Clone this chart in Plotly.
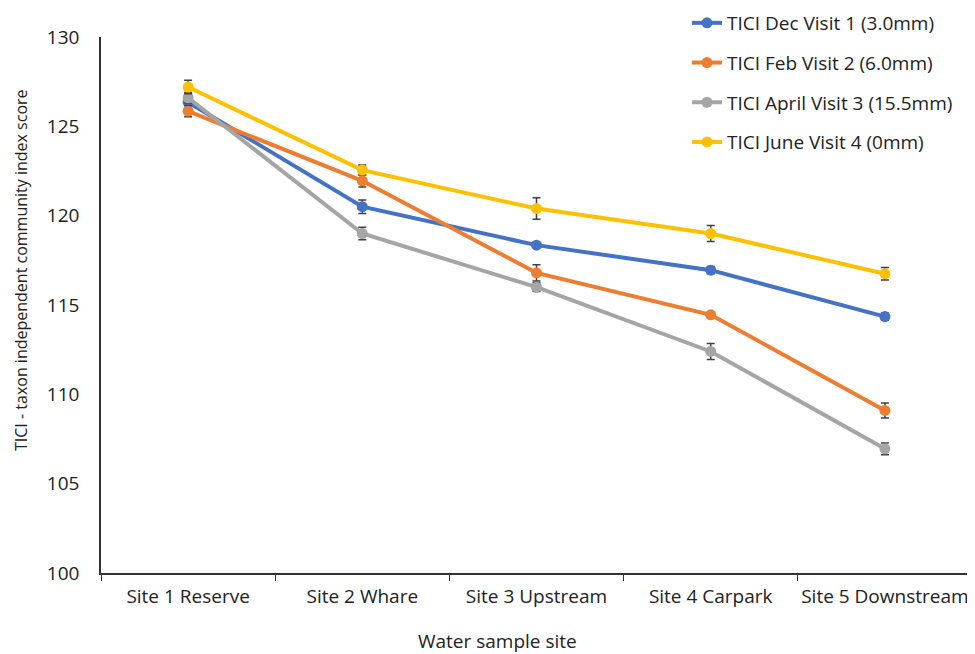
import plotly.graph_objects as go

sites = ["Site 1 Reserve", "Site 2 Whare", "Site 3 Upstream", "Site 4 Carpark", "Site 5 Downstream"]
series_names = ["TICI Dec Visit 1 (3.0mm)", "TICI Feb Visit 2 (6.0mm)",
                "TICI April Visit 3 (15.5mm)", "TICI June Visit 4 (0mm)"]
dec_vals = [126.35, 120.5, 118.35, 116.95, 114.35]
dec_err = [0.3, 0.38, 0.15, 0.2, 0.2]
feb_vals = [125.85, 121.95, 116.8, 114.45, 109.1]
feb_err = [0.32, 0.35, 0.45, 0.15, 0.42]
apr_vals = [126.6, 119.0, 116.0, 112.4, 106.95]
apr_err = [0.3, 0.35, 0.25, 0.45, 0.33]
jun_vals = [127.2, 122.55, 120.4, 119.0, 116.75]
jun_err = [0.38, 0.28, 0.6, 0.45, 0.35]
colors = ["#4472C4", "#ED7D31", "#A5A5A5", "#FFC000"]
y_ticks = [100, 105, 110, 115, 120, 125, 130]

FONT = "Open Sans"
FS = 19
# page has an 8px body margin; plot area in page coords: x 101..972, y 37..573
OFF = 8
PL, PR, PT, PB = 101, 972, 37, 573
W, H = 975 - OFF, 654 - OFF
PW, PH = PR - PL, PB - PT

fig = go.Figure()
for i, (name, vals, err) in enumerate(zip(series_names,
                                          [dec_vals, feb_vals, apr_vals, jun_vals],
                                          [dec_err, feb_err, apr_err, jun_err])):
    fig.add_trace(go.Scatter(
        x=sites, y=vals, name=name, mode="lines+markers",
        legendgroup=f"g{i}",
        line=dict(color=colors[i], width=4),
        marker=dict(color=colors[i], size=11),
        error_y=dict(type="data", array=err, visible=True, color="#404040",
                     thickness=1.5, width=4),
    ))

fig.update_layout(
    width=W, height=H,
    margin=dict(l=PL - OFF, r=W - (PR - OFF), t=PT - OFF, b=H - (PB - OFF), autoexpand=False),
    plot_bgcolor="white", paper_bgcolor="white",
    font=dict(family=FONT, size=FS, color="#222222"),
    showlegend=True,
    legend=dict(x=(687 - PL) / PW, y=1 + (PT - 4) / PH, xanchor="left", yanchor="top",
                traceorder="grouped", tracegroupgap=12,
                font=dict(size=FS, family=FONT, color="#222222"),
                bgcolor="rgba(0,0,0,0)"),
    xaxis=dict(type="category", range=[-0.5, 4.5], showline=True, linecolor="#333333",
               linewidth=1.5, ticks="outside", ticklen=6, tickcolor="#333333",
               tickson="boundaries", showgrid=False, zeroline=False, tickangle=0,
               tickfont=dict(size=FS, family=FONT, color="#222222"),
               ticklabelstandoff=5),
    yaxis=dict(range=[100, 130], tickvals=y_ticks, showline=True, linecolor="#333333",
               linewidth=1.5, ticks="", showgrid=False, zeroline=False,
               tickfont=dict(size=FS, family=FONT, color="#222222"),
               ticklabelstandoff=16),
    annotations=[
        dict(text="Water sample site", xref="paper", yref="paper",
             x=(497 - PL) / PW, y=-(641 - PB) / PH, xanchor="center", yanchor="middle",
             showarrow=False, font=dict(size=FS, family=FONT, color="#222222")),
        dict(text="TICI - taxon independent community index score", xref="paper", yref="paper",
             x=-(PL - 21) / PW, y=(PB - 270) / PH, xanchor="center", yanchor="middle",
             textangle=-90, showarrow=False,
             font=dict(size=16, family=FONT, color="#222222")),
    ],
)

fig.write_html("out.html")
